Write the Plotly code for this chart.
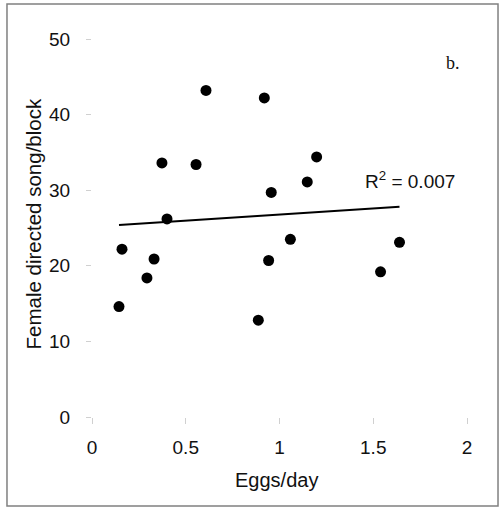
import numpy as np
import plotly.graph_objects as go

eggs_per_day = [0.608, 0.373, 0.555, 0.400, 0.160, 0.331, 0.293, 0.144, 0.887,
                0.919, 1.198, 1.148, 0.956, 1.058, 0.942, 1.640, 1.539]
female_song = [43.2, 33.6, 33.4, 26.2, 22.2, 20.9, 18.4, 14.6, 12.8,
               42.2, 34.4, 31.1, 29.7, 23.5, 20.7, 23.1, 19.2]
x_ticks = [0, 0.5, 1, 1.5, 2]
x_tick_labels = ["0", "0.5", "1", "1.5", "2"]
y_ticks = [0, 10, 20, 30, 40, 50]
y_tick_labels = ["0", "10", "20", "30", "40", "50"]
r2_label = "R<sup>2</sup> = 0.007"
panel_label = "b."

xa = np.array(eggs_per_day)
ya = np.array(female_song)
slope, intercept = np.polyfit(xa, ya, 1)
trend_x = [float(xa.min()), float(xa.max())]
trend_y = [slope * v + intercept for v in trend_x]

FONT = "Liberation Sans, Arial, sans-serif"

fig = go.Figure()
fig.add_trace(go.Scatter(x=trend_x, y=trend_y, mode="lines",
                         line=dict(color="black", width=2), showlegend=False,
                         hoverinfo="skip"))
fig.add_trace(go.Scatter(x=eggs_per_day, y=female_song, mode="markers",
                         marker=dict(color="black", size=11), showlegend=False,
                         cliponaxis=False))

fig.update_layout(
    width=499, height=508,
    margin=dict(l=92, r=32, t=30, b=91),
    paper_bgcolor="white", plot_bgcolor="white",
    font=dict(family=FONT, size=19, color="#111"),
    xaxis=dict(range=[0, 2], tickvals=x_ticks, ticktext=x_tick_labels,
               showgrid=False, zeroline=False, showline=False,
               ticks="outside", ticklen=6, tickcolor="#d0d0d0", tickwidth=1,
               ticklabelstandoff=7, tickfont=dict(size=19, family=FONT)),
    yaxis=dict(range=[0, 51.19], tickvals=y_ticks, ticktext=y_tick_labels,
               showgrid=False, zeroline=False, showline=False,
               ticks="outside", ticklen=5, tickcolor="#d0d0d0", tickwidth=1,
               ticklabelstandoff=12, tickfont=dict(size=19, family=FONT)),
    shapes=[dict(type="rect", xref="paper", yref="paper",
                 x0=-0.2267, x1=1.0827, y0=-0.23, y1=1.0672,
                 line=dict(color="#808080", width=1.5), fillcolor="rgba(0,0,0,0)",
                 layer="above")],
    annotations=[
        dict(text="Female directed song/block", xref="paper", yref="paper",
             x=-0.1547, y=0.5, textangle=-90, showarrow=False,
             xanchor="center", yanchor="middle",
             font=dict(size=20.5, family=FONT)),
        dict(text="Eggs/day", xref="paper", yref="paper",
             x=0.4933, y=-0.1628, showarrow=False,
             xanchor="center", yanchor="middle",
             font=dict(size=20, family=FONT)),
        dict(text=r2_label, xref="paper", yref="paper",
             x=0.8467, y=0.6124, showarrow=False,
             xanchor="center", yanchor="middle",
             font=dict(size=19, family=FONT)),
        dict(text=panel_label, xref="paper", yref="paper",
             x=0.962, y=0.9147, showarrow=False,
             xanchor="center", yanchor="middle",
             font=dict(size=18, family="Liberation Serif, Times New Roman, serif")),
    ],
)

fig.write_html("out.html", config={"displayModeBar": False},
               post_script="document.body.style.margin='0';document.body.style.overflow='hidden';")
